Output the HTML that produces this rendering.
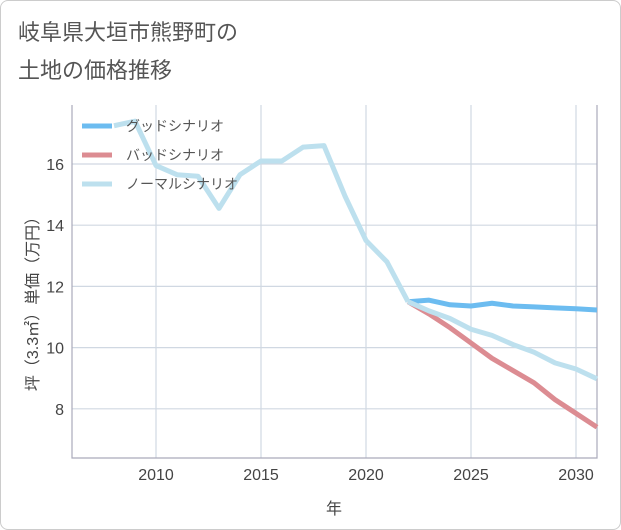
<!DOCTYPE html>
<html><head><meta charset="utf-8"><style>
body{margin:0;background:#fff;font-family:"Liberation Sans","Noto Sans CJK JP",sans-serif;}
#wrap{position:relative;width:619px;height:528px;border:1px solid #ccc;border-radius:8px;overflow:hidden;background:#fff;}
</style></head><body>
<div id="wrap">
<svg id="chart" width="621" height="530" style="position:absolute;left:-1px;top:-1px"></svg>
</div>
<script>
const years=[2008,2009,2010,2011,2012,2013,2014,2015,2016,2017,2018,2019,2020,2021,2022];
const histValues=[17.25,17.4,15.95,15.65,15.6,14.55,15.65,16.1,16.1,16.55,16.6,14.95,13.5,12.8,11.5];
const futYears=[2022,2023,2024,2025,2026,2027,2028,2029,2030,2031];
const goodValues=[11.5,11.55,11.4,11.36,11.45,11.36,11.33,11.3,11.27,11.23];
const badValues=[11.5,11.1,10.65,10.15,9.65,9.25,8.85,8.3,7.85,7.4];
const normalValues=[11.5,11.2,10.95,10.6,10.4,10.1,9.85,9.5,9.3,8.98];
const xTicks=[2010,2015,2020,2025,2030];
const yTicks=[8,10,12,14,16];
const NS='http://www.w3.org/2000/svg';
const svg=document.getElementById('chart');
const L=72,R=597,T=105,B=458;
const x=v=>L+(v-2006)*(R-L)/25;
const y=v=>164+(16-v)*30.6;
function mk(tag,attrs,parent){const e=document.createElementNS(NS,tag);for(const k in attrs)e.setAttribute(k,attrs[k]);(parent||svg).appendChild(e);return e;}
let t=mk('text',{x:18,y:40,'font-size':22,fill:'#555'});t.textContent='岐阜県大垣市熊野町の';


t=mk('text',{x:18,y:78,'font-size':22,fill:'#555'});t.textContent='土地の価格推移';


xTicks.forEach(v=>{const l=mk('line',{x1:x(v),x2:x(v),y1:T,y2:B,stroke:'#d0d8e2','stroke-width':1.2});


const tx=mk('text',{x:x(v),y:480,'font-size':16,fill:'#444','text-anchor':'middle'});tx.textContent=v;

});
yTicks.forEach(v=>{const l=mk('line',{x1:L,x2:R,y1:y(v),y2:y(v),stroke:'#d0d8e2','stroke-width':1.2});


const tx=mk('text',{x:L-8,y:y(v)+6,'font-size':16,fill:'#444','text-anchor':'end'});tx.textContent=v;

});
let ax=mk('polyline',{points:`${L},${T} ${L},${B} ${R},${B} ${R},${T}`,fill:'none',stroke:'#aab','stroke-width':1.2});


t=mk('text',{x:334,y:514,'font-size':16,fill:'#444','text-anchor':'middle'});t.textContent='年';


t=mk('text',{x:0,y:0,'font-size':16,fill:'#444','text-anchor':'middle',transform:'translate(38,300) rotate(-90)'});t.textContent='坪（3.3㎡）単価（万円）';


function line(xs,vs,color,name){const p=mk('polyline',{points:xs.map((v,i)=>x(v)+','+y(vs[i])).join(' '),fill:'none',stroke:color,'stroke-width':5,'stroke-linejoin':'round'});

}
line(futYears,goodValues,'#6cbcf0','good-scenario-line');
line(futYears,badValues,'#dc8c92','bad-scenario-line');
line(futYears,normalValues,'#bde0ee','normal-scenario-line');
line(years,histValues,'#bde0ee','historical-line');
const leg=[['グッドシナリオ','#6cbcf0'],['バッドシナリオ','#dc8c92'],['ノーマルシナリオ','#bde0ee']];
leg.forEach((d,i)=>{const yy=126+i*29;
const l=mk('line',{x1:82,x2:112,y1:yy,y2:yy,stroke:d[1],'stroke-width':5});


const tx=mk('text',{x:126,y:yy+5,'font-size':14,fill:'#555'});tx.textContent=d[0];

});
</script>
</body></html>
